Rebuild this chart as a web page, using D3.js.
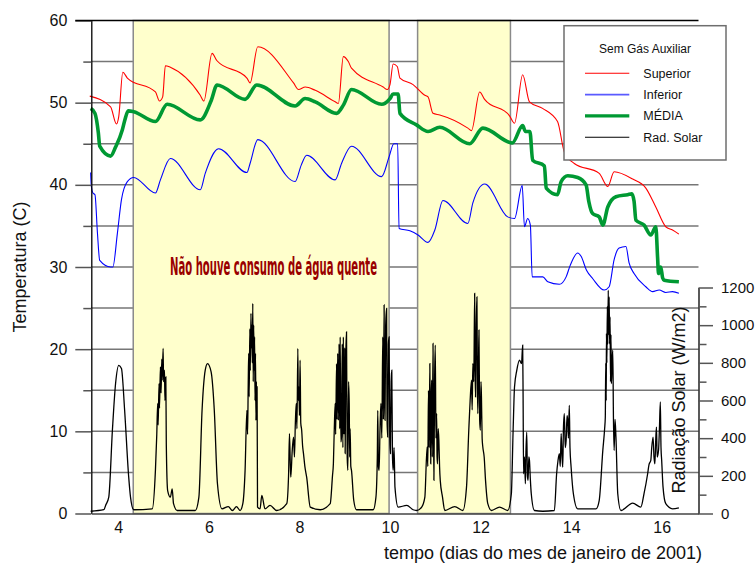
<!DOCTYPE html>
<html>
<head>
<meta charset="utf-8">
<script src="https://cdn.jsdelivr.net/npm/d3@7"></script>
<style>
  body { margin: 0; background: #fff; }
  svg { display: block; font-family: "Liberation Sans", Arial, sans-serif; }
</style>
</head>
<body>
<svg class="Chart"></svg>
<script>
const width = 756;
const height = 563;

// tick values
const dayTicks = [4, 6, 8, 10, 12, 14, 16];
const tempTicks = [0, 10, 20, 30, 40, 50, 60];
const tempMinorTicks = [5, 15, 25, 35, 45, 55];
const radTicks = [0, 200, 400, 600, 800, 1000, 1200];
const radMinorTicks = [100, 300, 500, 700, 900, 1100];

// periods without hot water use [start day, end day]
const noUsePeriods = [[4.33, 9.98], [10.61, 12.66]];

const seriesNames = ['Superior', 'Inferior', 'MÉDIA', 'Rad. Solar'];

// [day, temperature C]
const superior = [
    [3.37, 50.8], [3.83, 49.5], [3.96, 47.4], [4.01, 48.3], [4.10, 53.7], [4.20, 53.0],
    [4.82, 51.3], [4.91, 50.2], [4.98, 50.7], [5.04, 54.5], [5.15, 54.3], [5.81, 50.9],
    [5.89, 50.2], [6.07, 56.0], [6.18, 55.1], [6.84, 53.0], [6.91, 52.4], [7.08, 56.8],
    [7.87, 52.4], [7.98, 51.6], [8.13, 51.9], [8.35, 51.5], [8.79, 50.1], [8.86, 49.9],
    [8.97, 55.6], [9.08, 55.0], [9.15, 54.2], [9.85, 51.9], [9.94, 51.6], [10.0, 52.2],
    [10.07, 54.7], [10.16, 54.4], [10.22, 53.0], [10.51, 52.2], [10.77, 50.9], [10.84, 50.7],
    [10.95, 48.7], [11.10, 48.5], [11.72, 46.9], [11.80, 46.6], [11.98, 51.3], [12.09, 50.4],
    [12.64, 48.4], [12.75, 47.5], [12.93, 53.4], [13.08, 50.1], [13.37, 49.3], [13.70, 47.7],
    [13.85, 44.0], [14.07, 42.6], [14.62, 41.4], [14.81, 39.8], [14.95, 41.6], [15.36, 40.7],
    [15.65, 39.6], [15.87, 37.3], [16.09, 34.9], [16.24, 34.5], [16.38, 34.0]
];

const inferior = [
    [3.39, 41.5], [3.405, 39.8], [3.44, 39.0], [3.485, 38.8], [3.54, 34.1], [3.59, 30.8],
    [3.83, 30.0], [3.88, 30.0], [3.98, 34.1], [4.07, 38.2], [4.20, 40.4], [4.34, 40.9],
    [4.82, 39.0], [4.93, 40.6], [5.15, 43.2], [5.81, 39.4], [5.92, 41.4], [6.215, 44.4],
    [6.84, 41.5], [6.91, 42.6], [7.08, 45.5], [7.905, 40.4], [8.04, 42.4], [8.16, 43.6],
    [8.79, 40.6], [8.93, 42.6], [9.15, 44.7], [9.815, 41.0], [9.98, 43.4], [10.085, 45.0],
    [10.17, 45.0], [10.20, 34.7], [10.44, 34.4], [10.62, 33.9], [10.84, 33.0], [10.99, 34.5],
    [11.17, 38.1], [11.72, 35.3], [11.83, 37.8], [12.09, 40.1], [12.60, 36.1], [12.75, 35.9],
    [12.92, 39.9], [12.97, 34.9], [13.04, 35.9], [13.10, 35.1], [13.14, 28.8], [13.375, 28.8],
    [13.485, 28.2], [13.74, 27.9], [13.89, 28.8], [13.98, 30.2], [14.145, 31.7], [14.22, 31.3],
    [14.34, 29.6], [14.475, 28.6], [14.73, 27.2], [14.84, 27.6], [14.95, 30.9], [15.06, 32.3],
    [15.21, 32.5], [15.28, 30.5], [15.39, 29.2], [15.65, 27.6], [15.80, 27.0], [15.945, 27.2],
    [16.09, 26.9], [16.24, 27.0], [16.38, 26.8]
];

const media = [
    [3.39, 49.3], [3.485, 48.7], [3.56, 46.3], [3.59, 44.7], [3.83, 43.5], [3.94, 44.6],
    [4.09, 46.7], [4.145, 47.9], [4.22, 49.0], [4.34, 48.9], [4.82, 47.7], [5.08, 49.8],
    [5.81, 47.9], [6.055, 50.3], [6.18, 52.15], [6.80, 50.4], [7.06, 52.15], [7.905, 49.6],
    [8.125, 50.5], [8.35, 50.1], [8.82, 48.7], [8.97, 49.7], [9.15, 51.6], [9.815, 49.8],
    [10.0, 50.5], [10.07, 51.05], [10.18, 51.05], [10.22, 48.7], [10.585, 47.3], [10.84, 46.5],
    [11.10, 47.0], [11.76, 45.0], [12.05, 46.9], [12.70, 45.1], [12.93, 47.2], [12.99, 46.5],
    [13.09, 46.5], [13.15, 43.0], [13.41, 42.3], [13.45, 39.6], [13.70, 38.8], [13.78, 40.4],
    [13.925, 41.1], [14.145, 40.9], [14.33, 40.0], [14.39, 38.0], [14.475, 36.5], [14.62, 36.1],
    [14.70, 35.1], [14.81, 37.3], [14.99, 38.55], [15.25, 38.8], [15.34, 38.9], [15.39, 38.0],
    [15.43, 35.7], [15.61, 35.1], [15.76, 33.9], [15.87, 34.9], [15.91, 31.1], [15.93, 29.2],
    [15.98, 30.0], [16.02, 28.7], [16.055, 28.4], [16.38, 28.2]
];

// [day, W/m2]
const radiacao = [
    [3.39, 12], [3.68, 20], [3.72, 43], [3.79, 87], [3.87, 442], [3.94, 690], [4.01, 787],
    [4.07, 770], [4.14, 548], [4.23, 193], [4.27, 87], [4.34, 20],
    [4.75, 25], [4.82, 229], [4.85, 420], [4.87, 584], [4.88, 470], [4.90, 690], [4.91, 560],
    [4.93, 778], [4.945, 640], [4.96, 820], [4.97, 708], [4.99, 876], [5.0, 700], [5.02, 761],
    [5.03, 600], [5.05, 725], [5.06, 371], [5.09, 122], [5.15, 87], [5.19, 131], [5.22, 52], [5.30, 16],
    [5.70, 16], [5.78, 87], [5.85, 548], [5.92, 761], [5.97, 796], [6.05, 752], [6.12, 548],
    [6.19, 158], [6.29, 25], [6.43, 37], [6.52, 16], [6.61, 37], [6.69, 16],
    [6.75, 52], [6.80, 229], [6.84, 548], [6.855, 420], [6.87, 700], [6.88, 850], [6.89, 620],
    [6.905, 980], [6.915, 760], [6.93, 1062], [6.94, 880], [6.95, 1000], [6.96, 800], [6.97, 1116],
    [6.98, 700], [6.99, 1000], [7.00, 761], [7.01, 938], [7.02, 600], [7.03, 850], [7.04, 495],
    [7.05, 700], [7.06, 560], [7.065, 672], [7.075, 34], [7.13, 25], [7.17, 96], [7.24, 25],
    [7.35, 43], [7.50, 16],
    [7.72, 52], [7.76, 200], [7.78, 424], [7.80, 250], [7.81, 193], [7.84, 330], [7.87, 406],
    [7.89, 300], [7.91, 480], [7.93, 584], [7.945, 450], [7.965, 876], [7.975, 600], [7.99, 672],
    [8.0, 520], [8.015, 814], [8.03, 480], [8.05, 442], [8.07, 360], [8.09, 318], [8.12, 250],
    [8.16, 193], [8.24, 34], [8.46, 20],
    [8.68, 52], [8.73, 200], [8.75, 264], [8.77, 450], [8.79, 584], [8.80, 420], [8.82, 796],
    [8.83, 500], [8.845, 850], [8.86, 495], [8.875, 900], [8.89, 450], [8.90, 938], [8.915, 380],
    [8.93, 406], [8.945, 900], [8.96, 350], [8.97, 938], [8.985, 420], [9.0, 880], [9.01, 318],
    [9.025, 850], [9.04, 964], [9.055, 300], [9.07, 229], [9.085, 700], [9.10, 584], [9.11, 300],
    [9.12, 450], [9.135, 250], [9.15, 229], [9.20, 69], [9.26, 20], [9.63, 20],
    [9.69, 87], [9.72, 300], [9.73, 548], [9.745, 250], [9.76, 229], [9.78, 450], [9.80, 584],
    [9.82, 400], [9.84, 938], [9.855, 500], [9.87, 1107], [9.88, 600], [9.89, 495], [9.905, 1000],
    [9.925, 1089], [9.935, 500], [9.95, 406], [9.965, 900], [9.98, 938], [9.995, 400], [10.01, 318],
    [10.025, 700], [10.04, 761], [10.055, 300], [10.07, 229], [10.09, 350], [10.11, 140],
    [10.18, 34], [10.37, 43], [10.51, 20],
    [10.59, 16], [10.70, 34], [10.77, 87], [10.82, 353], [10.835, 250], [10.85, 654], [10.865, 350],
    [10.88, 796], [10.89, 450], [10.90, 264], [10.91, 600], [10.92, 708], [10.935, 300], [10.95, 903],
    [10.96, 500], [10.97, 176], [10.985, 700], [11.0, 894], [11.015, 400], [11.03, 530], [11.04, 300],
    [11.05, 264], [11.065, 450], [11.08, 388], [11.095, 250], [11.11, 176], [11.16, 87], [11.21, 16],
    [11.43, 37], [11.61, 16],
    [11.69, 140], [11.74, 442], [11.77, 600], [11.80, 708], [11.815, 550], [11.83, 796], [11.85, 700],
    [11.87, 1169], [11.88, 750], [11.89, 619], [11.905, 1000], [11.92, 1150], [11.93, 700], [11.94, 530],
    [11.955, 800], [11.965, 974], [11.98, 500], [11.995, 442], [12.01, 700], [12.02, 619], [12.035, 400],
    [12.05, 353], [12.08, 300], [12.11, 176], [12.16, 52], [12.24, 16], [12.42, 34], [12.60, 16],
    [12.68, 105], [12.72, 450], [12.75, 672], [12.80, 760], [12.86, 814], [12.905, 796], [12.93, 894],
    [12.94, 600], [12.95, 211], [12.97, 300], [12.99, 158], [13.0, 300], [13.02, 432], [13.035, 200],
    [13.05, 176], [13.065, 300], [13.08, 282], [13.10, 180], [13.12, 105], [13.19, 16], [13.375, 12],
    [13.63, 16], [13.68, 211], [13.71, 280], [13.74, 318], [13.76, 250], [13.78, 424], [13.80, 300],
    [13.815, 246], [13.83, 450], [13.85, 530], [13.87, 350], [13.89, 388], [13.91, 520], [13.925, 495],
    [13.94, 400], [13.96, 574], [13.975, 350], [14.0, 246], [14.05, 105], [14.145, 25], [14.55, 25],
    [14.62, 69], [14.70, 335], [14.74, 450], [14.755, 512], [14.765, 800], [14.775, 600], [14.78, 956],
    [14.79, 800], [14.80, 1100], [14.81, 900], [14.82, 1186], [14.83, 950], [14.84, 1150], [14.85, 900],
    [14.86, 1044], [14.87, 700], [14.88, 950], [14.89, 690], [14.905, 800], [14.92, 867], [14.935, 500],
    [14.95, 335], [14.97, 500], [14.99, 406], [15.03, 105], [15.10, 16], [15.36, 55], [15.54, 34],
    [15.61, 105], [15.69, 211], [15.72, 260], [15.76, 282], [15.78, 350], [15.81, 406], [15.83, 300],
    [15.85, 264], [15.87, 400], [15.885, 459], [15.90, 300], [15.93, 335], [15.95, 450], [15.97, 592],
    [15.985, 350], [16.0, 282], [16.03, 140], [16.09, 52], [16.24, 25], [16.38, 30]
];

const plot = { left: 91.3, right: 698.5, top: 20.5, bottom: 513.5 };

const svg = d3.select('.Chart')
    .attr('width', width)
    .attr('height', height);

const x = d3.scaleLinear().domain([3.404, 16.813]).range([plot.left, plot.right]);
const yT = d3.scaleLinear().domain([0, 60]).range([plot.bottom, plot.top]);
const yR = d3.scaleLinear().domain([0, 1200]).range([plot.bottom, 287.5]);

// horizontal grid (hidden under the yellow periods)
svg.selectAll('line.grid')
    .data(tempTicks.concat(tempMinorTicks).filter(d => d > 0 && d < 60))
    .join('line')
    .attr('class', 'grid')
    .attr('x1', plot.left)
    .attr('x2', plot.right)
    .attr('y1', d => yT(d))
    .attr('y2', d => yT(d))
    .attr('stroke', '#767676')
    .attr('stroke-width', 1.5);

svg.selectAll('rect.period')
    .data(noUsePeriods)
    .join('rect')
    .attr('class', 'period')
    .attr('x', d => x(d[0]))
    .attr('width', d => x(d[1]) - x(d[0]))
    .attr('y', plot.top)
    .attr('height', plot.bottom - plot.top)
    .attr('fill', '#ffffcc')
    .attr('stroke', '#8a8a8a')
    .attr('stroke-width', 1.5);

const lineT = d3.line().x(d => x(d[0])).y(d => yT(d[1])).curve(d3.curveMonotoneX);
const lineR = d3.line().x(d => x(d[0])).y(d => yR(d[1])).curve(d3.curveMonotoneX);

svg.append('path')
    .attr('d', lineR(radiacao))
    .attr('fill', 'none')
    .attr('stroke', '#000')
    .attr('stroke-width', 1.3)
    .attr('stroke-linejoin', 'miter')
    .attr('stroke-miterlimit', 2);

svg.append('path')
    .attr('d', lineT(inferior))
    .attr('fill', 'none')
    .attr('stroke', '#0000ff')
    .attr('stroke-width', 1.1);

svg.append('path')
    .attr('d', lineT(superior))
    .attr('fill', 'none')
    .attr('stroke', '#ff0000')
    .attr('stroke-width', 1.1);

svg.append('path')
    .attr('d', lineT(media))
    .attr('fill', 'none')
    .attr('stroke', '#009933')
    .attr('stroke-width', 3.6)
    .attr('stroke-linejoin', 'round');

// axes
svg.append('g')
    .attr('transform', `translate(${plot.left},0)`)
    .call(d3.axisLeft(yT).tickValues(tempTicks).tickSize(16).tickSizeOuter(0).tickPadding(8));
svg.append('g')
    .attr('transform', `translate(${plot.left},0)`)
    .call(d3.axisLeft(yT).tickValues(tempMinorTicks).tickSize(8).tickSizeOuter(0).tickFormat(''))
    .call(g => g.select('.domain').remove());

const axisRight = svg.append('g')
    .attr('transform', `translate(${plot.right},0)`)
    .call(d3.axisRight(yR).tickValues(radTicks).tickSize(14.5).tickSizeOuter(0).tickPadding(8)
        .tickFormat(d3.format('d')));
svg.append('g')
    .attr('transform', `translate(${plot.right},0)`)
    .call(d3.axisRight(yR).tickValues(radMinorTicks).tickSize(8).tickSizeOuter(0).tickFormat(''))
    .call(g => g.select('.domain').remove());

const axisBottom = svg.append('g')
    .attr('transform', `translate(0,${plot.bottom})`)
    .call(d3.axisBottom(x).tickValues(dayTicks).tickSize(0).tickSizeOuter(0).tickPadding(8.5));

svg.selectAll('.tick line').attr('stroke', '#555').attr('stroke-width', 1.5);
svg.selectAll('.domain').attr('stroke', '#000').attr('stroke-width', 1.3);
svg.selectAll('.tick text')
    .attr('fill', '#111')
    .style('font-size', '16px')
    .style('font-family', '"Liberation Sans", Arial, sans-serif');
axisRight.selectAll('.tick text').style('font-size', '15px');
axisBottom.select('.domain').attr('stroke', '#444').attr('stroke-width', 1.5);

// top line
svg.append('line')
    .attr('x1', plot.left - 16)
    .attr('x2', plot.right)
    .attr('y1', plot.top)
    .attr('y2', plot.top)
    .attr('stroke', '#000')
    .attr('stroke-width', 1.5);

// axis titles
svg.append('text')
    .attr('transform', `translate(26,${(plot.top + plot.bottom) / 2}) rotate(-90)`)
    .attr('text-anchor', 'middle')
    .style('font-size', '18px')
    .attr('fill', '#111')
    .text('Temperatura (C)');

svg.append('text')
    .attr('transform', 'translate(685,400) rotate(-90)')
    .attr('text-anchor', 'middle')
    .style('font-size', '18px')
    .attr('fill', '#111')
    .text('Radiação Solar (W/m2)');

svg.append('text')
    .attr('x', 543)
    .attr('y', 559)
    .attr('text-anchor', 'middle')
    .style('font-size', '18px')
    .attr('fill', '#111')
    .text('tempo (dias do mes de janeiro de 2001)');

// annotation
svg.append('text')
    .attr('x', 170)
    .attr('y', 275)
    .attr('textLength', 207)
    .attr('lengthAdjust', 'spacingAndGlyphs')
    .style('font-family', '"Liberation Sans Narrow", "DejaVu Sans Condensed", "Arial Narrow", sans-serif')
    .style('font-weight', 'bold')
    .style('font-size', '25px')
    .attr('fill', '#990000')
    .text('Não houve consumo de água quente');

// legend
const legendStyles = [
    { color: '#ff0000', width: 1.1 },
    { color: '#5a5aff', width: 1.6 },
    { color: '#009933', width: 3.2 },
    { color: '#000', width: 1.1 },
];

const legend = svg.append('g').attr('transform', 'translate(564,25.7)');
legend.append('rect')
    .attr('width', 162)
    .attr('height', 134.3)
    .attr('fill', '#fff')
    .attr('stroke', '#6e6e6e')
    .attr('stroke-width', 1.5);
legend.append('text')
    .attr('x', 81)
    .attr('y', 27.3)
    .attr('text-anchor', 'middle')
    .style('font-size', '12px')
    .attr('fill', '#111')
    .text('Sem Gás Auxiliar');

const entry = legend.selectAll('g.entry')
    .data(seriesNames)
    .join('g')
    .attr('class', 'entry')
    .attr('transform', (d, i) => `translate(0,${47.6 + i * 21.3})`);
entry.append('line')
    .attr('x1', 21)
    .attr('x2', 65.3)
    .attr('stroke', (d, i) => legendStyles[i].color)
    .attr('stroke-width', (d, i) => legendStyles[i].width);
entry.append('text')
    .attr('x', 79.3)
    .attr('y', 4.3)
    .style('font-size', '12.5px')
    .attr('fill', '#111')
    .text(d => d);
</script>
</body>
</html>
